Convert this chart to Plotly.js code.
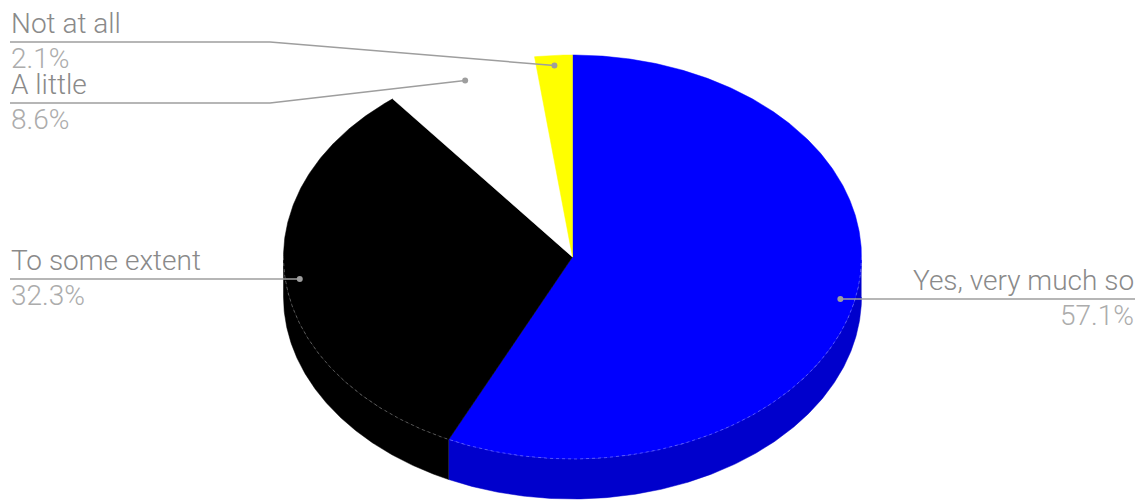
<!DOCTYPE html>
<html>
<head>
<meta charset="utf-8">
<script src="https://cdn.plot.ly/plotly-3.0.1.min.js"></script>
<style>html,body{margin:0;padding:0;background:#fff;}#chart{width:1143px;height:500px;}</style>
</head>
<body>
<div id="chart"></div>
<script>
// ---- data ----
const labels = ["Yes, very much so", "To some extent", "A little", "Not at all"];
const values = [57.1, 32.3, 8.6, 2.1];
const pctLabels = ["57.1%", "32.3%", "8.6%", "2.1%"];
const topColors = ["#0000ff", "#000000", "#ffffff", "#ffff00"];
const sideColors = ["#0000cc", "#000000", "#e0e0e0", "#cccc00"];

// ---- geometry (layout) ----
const W = 1143, H = 500;
const cx = 572.5, cy = 257, rx = 289, ry = 202, depth = 40;
function pt(deg, k, dy) {
  const t = deg * Math.PI / 180;
  return [cx + k * rx * Math.sin(t), cy - k * ry * Math.cos(t) + (dy || 0)];
}
function arc(a0, a1, k, dy) {
  const xs = [], ys = [];
  const n = Math.max(2, Math.ceil(Math.abs(a1 - a0) / 0.5));
  for (let i = 0; i <= n; i++) {
    const p = pt(a0 + (a1 - a0) * i / n, k, dy);
    xs.push(p[0]); ys.push(p[1]);
  }
  return [xs, ys];
}

const total = values.reduce((a, b) => a + b, 0);
const starts = [], ends = [];
let acc = 0;
values.forEach(v => { starts.push(acc / total * 360); acc += v; ends.push(acc / total * 360); });

const traces = [];
// side walls (visible front half: 90..270 deg clockwise from top)
values.forEach((v, i) => {
  const a0 = Math.max(starts[i], 90), a1 = Math.min(ends[i], 270);
  if (a1 <= a0) return;
  const top = arc(a0, a1, 1, 0), bot = arc(a1, a0, 1, depth);
  traces.push({
    type: "scatter", mode: "lines", fill: "toself",
    x: top[0].concat(bot[0]), y: top[1].concat(bot[1]),
    fillcolor: sideColors[i], line: {color: sideColors[i], width: 0.5},
    hoverinfo: "skip", showlegend: false
  });
});
// top faces
values.forEach((v, i) => {
  const a = arc(starts[i], ends[i], 1, 0);
  traces.push({
    type: "scatter", mode: "lines", fill: "toself",
    x: [cx].concat(a[0], [cx]), y: [cy].concat(a[1], [cy]),
    fillcolor: topColors[i], line: {color: topColors[i], width: 0.5},
    hoverinfo: "skip", showlegend: false
  });
});
// faint edge between top face and wall
const edge = arc(90, 270, 1, 0);
traces.push({
  type: "scatter", mode: "lines", x: edge[0], y: edge[1],
  line: {color: "rgba(255,255,255,0.3)", width: 1, dash: "dot"},
  hoverinfo: "skip", showlegend: false
});

// label placement (layout)
const labelPlace = [
  {side: "right", x: 1135, y: 299, bendX: null},
  {side: "left", x: 10, y: 279, bendX: null},
  {side: "left", x: 10, y: 103, bendX: 270},
  {side: "left", x: 10, y: 42, bendX: 270}
];
const annotations = [];
values.forEach((v, i) => {
  const mid = (starts[i] + ends[i]) / 2;
  const d = pt(mid, 0.95, 0);
  const lp = labelPlace[i];
  const lx = [d[0]], ly = [d[1]];
  if (lp.bendX !== null) { lx.push(lp.bendX); ly.push(lp.y); }
  else { ly[0] = lp.y; }
  lx.push(lp.x); ly.push(lp.y);
  traces.push({
    type: "scatter", mode: "lines", x: lx, y: ly,
    line: {color: "#9e9e9e", width: 1.5}, hoverinfo: "skip", showlegend: false
  });
  traces.push({
    type: "scatter", mode: "markers", x: [d[0]], y: [ly[0]],
    marker: {color: "#9e9e9e", size: 6}, hoverinfo: "skip", showlegend: false
  });
  const anchor = lp.side === "right" ? "right" : "left";
  annotations.push({
    x: lp.x, y: lp.y - 19, xref: "x", yref: "y", showarrow: false,
    text: labels[i], xanchor: anchor, yanchor: "middle", borderpad: 0,
    font: {family: "Roboto", size: 28, color: "#8a8a8a", weight: 300}
  });
  annotations.push({
    x: lp.x, y: lp.y + 16, xref: "x", yref: "y", showarrow: false,
    text: pctLabels[i], xanchor: anchor, yanchor: "middle", borderpad: 0,
    font: {family: "Roboto", size: 28, color: "#acacac", weight: 300}
  });
});

const layout = {
  width: W, height: H,
  margin: {l: 0, r: 0, t: 0, b: 0, pad: 0},
  paper_bgcolor: "#ffffff", plot_bgcolor: "#ffffff",
  xaxis: {range: [0, W], visible: false, fixedrange: true},
  yaxis: {range: [H, 0], visible: false, fixedrange: true},
  annotations: annotations,
  showlegend: false
};
Plotly.newPlot("chart", traces, layout, {displayModeBar: false, staticPlot: true});
</script>
</body>
</html>
